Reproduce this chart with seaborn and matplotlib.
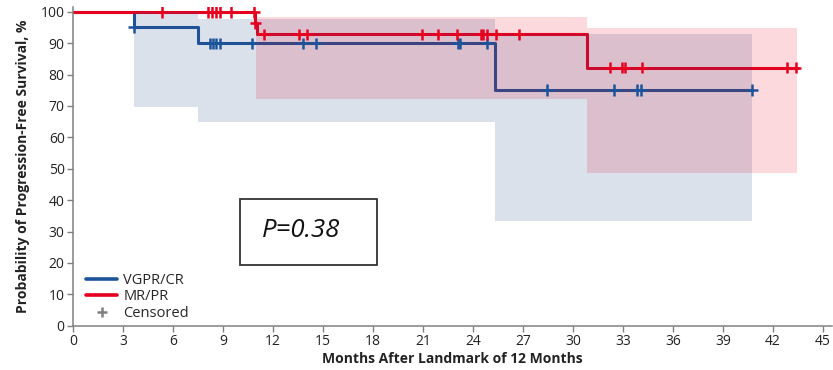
import numpy as np
import pandas as pd
import matplotlib
matplotlib.use('Agg')
import matplotlib.pyplot as plt
from matplotlib.lines import Line2D
from matplotlib.patches import Rectangle
import seaborn as sns

#--------------------------------------------------------
# step curves (months, PFS %)
blue_t=[0, 3.66, 7.48, 25.3, 40.74]
blue_s=[100, 95.1, 89.9, 75.0, 75.0]
red_t=[0, 10.95, 11.06, 30.86, 43.5]
red_s=[100, 96.5, 92.8, 82.2, 82.2]

# censored times
blue_cens=[3.66, 8.2, 8.4, 8.6, 8.8, 10.72, 13.8, 14.56, 23.08, 23.2, 24.84,
	28.46, 32.46, 33.86, 34.1, 40.74]
red_cens=[5.32, 8.08, 8.32, 8.56, 8.8, 9.46, 10.85, 10.95, 11.48, 13.58, 14.02,
	20.96, 21.88, 23.02, 24.46, 24.62, 24.86, 25.38, 26.78, 32.22, 32.92, 33.14,
	34.14, 42.86, 43.36]

# confidence bands
blue_ci_t=[3.66, 7.48, 25.3, 40.74]
blue_ci_lo=[69.7, 64.9, 33.3, 33.3]
blue_ci_hi=[99.8, 97.6, 92.9, 92.9]
red_ci_t=[11.0, 30.86, 43.43]
red_ci_lo=[72.3, 48.7, 48.7]
red_ci_hi=[98.4, 94.7, 94.7]

groups=['VGPR/CR', 'MR/PR']
c_blue='#1D5399'
c_red='#E6001F'
c_grey='#808080'
p_text='P=0.38'

#--------------------------------------------------------
def level(t_ev, s_ev, t):
	idx=np.searchsorted(t_ev, t, side='right')-1
	return np.array(s_ev)[idx]

df_line=pd.concat([
	pd.DataFrame({'t':blue_t, 's':blue_s, 'grp':groups[0]}),
	pd.DataFrame({'t':red_t, 's':red_s, 'grp':groups[1]})], ignore_index=True)
df_cens=pd.concat([
	pd.DataFrame({'t':blue_cens, 's':level(blue_t, blue_s, blue_cens), 'grp':groups[0]}),
	pd.DataFrame({'t':red_cens, 's':level(red_t, red_s, red_cens), 'grp':groups[1]})], ignore_index=True)
pal={groups[0]:c_blue, groups[1]:c_red}

#--------------------------------------------------------
sns.set_theme(style='white')
plt.rcParams['font.family']=['Open Sans', 'DejaVu Sans']
fig=plt.figure(figsize=(8.33, 3.7), dpi=100)
ax=fig.add_axes([0.0876, 0.1197, 0.9113, 0.8614])

sns.lineplot(data=df_line, x='t', y='s', hue='grp', palette=pal, estimator=None,
	sort=False, drawstyle='steps-post', lw=2.2, legend=False, ax=ax, zorder=2)

# bands drawn over the lines (lines look muted inside them)
ax.fill_between(blue_ci_t, blue_ci_lo, blue_ci_hi, step='post', color='#2B4E8C',
	alpha=0.17, lw=0, zorder=3)
ax.fill_between(red_ci_t, red_ci_lo, red_ci_hi, step='post', color='#E8001C',
	alpha=0.15, lw=0, zorder=3)

sns.scatterplot(data=df_cens, x='t', y='s', hue='grp', palette=pal, marker='+',
	s=70, linewidth=1.8, legend=False, ax=ax, zorder=4)

# p-value box
ax.add_patch(Rectangle((10.0, 19.2), 8.22, 21.0, fill=False, ec='#333333', lw=1.3, zorder=5))
ax.text(13.67, 30.3, p_text, ha='center', va='center', fontsize=18.5, style='italic',
	color='#111111', zorder=6)

#adjust
ax.set_xlim(0, 45.55)
ax.set_ylim(0, 101.5)
ax.set_xticks(np.arange(0, 46, 3))
ax.set_yticks(np.arange(0, 101, 10))
ax.tick_params(axis='both', labelsize=10, length=4, width=1, color=c_grey,
	pad=2, labelcolor='#222222', direction='out', bottom=True, left=True)
for sp in ['top', 'right']:
	ax.spines[sp].set_visible(False)
for sp in ['left', 'bottom']:
	ax.spines[sp].set_color(c_grey)
	ax.spines[sp].set_linewidth(1.1)
ax.set_xlabel('Months After Landmark of 12 Months', fontsize=10, weight='bold',
	color='#222222', labelpad=2)
ax.set_ylabel('Probability of Progression-Free Survival, %', fontsize=10,
	weight='bold', color='#222222', labelpad=8)

handles=[Line2D([], [], color=c_blue, lw=2.6),
	Line2D([], [], color=c_red, lw=2.6),
	Line2D([], [], color=c_grey, lw=0, marker='+', ms=7, mew=1.8)]
ax.legend(handles, groups+['Censored'], loc='lower left', bbox_to_anchor=(0.004, -0.018),
	frameon=False, fontsize=10.5, handlelength=2.1, handletextpad=0.45,
	labelspacing=0.12, borderpad=0.2)

fig.savefig('out.png', dpi=100)
plt.close()
